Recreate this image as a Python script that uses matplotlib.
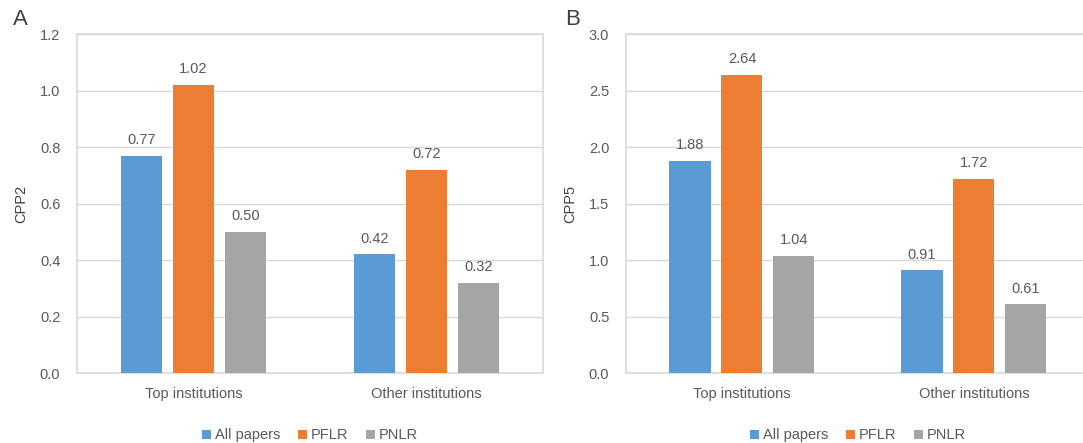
import matplotlib
matplotlib.use("Agg")
import matplotlib.pyplot as plt
import numpy as np
from matplotlib import font_manager

# ── Datos ────────────────────────────────────────────────────────────────────
categorias = ["Top institutions", "Other institutions"]
series = ["All papers", "PFLR", "PNLR"]
colores = ["#5B9BD5", "#ED7D31", "#A5A5A5"]

cpp2 = {"All papers": [0.77, 0.42], "PFLR": [1.02, 0.72], "PNLR": [0.50, 0.32]}
cpp5 = {"All papers": [1.88, 0.91], "PFLR": [2.64, 1.72], "PNLR": [1.04, 0.61]}

# fuente estrecha si existe
disponibles = {f.name for f in font_manager.fontManager.ttflist}
fuente = "Liberation Sans Narrow" if "Liberation Sans Narrow" in disponibles else "Liberation Sans"
plt.rcParams["font.family"] = [fuente, "DejaVu Sans"]

TXT = "#595959"
GRID = "#D9D9D9"

fig = plt.figure(figsize=(10.83, 4.43), dpi=100)
# el panel B se sale un poco por la derecha, como en el original
ax_a = fig.add_axes([0.0711, 0.158, 0.4303, 0.765])
ax_b = fig.add_axes([0.578, 0.158, 0.4284, 0.765])


def panel(ax, datos, ylim, paso, ylabel, letra, xletra):
    x = np.arange(len(categorias))
    ancho = 0.177
    sep = 0.224
    for i, (s, c) in enumerate(zip(series, colores)):
        vals = datos[s]
        bars = ax.bar(x + (i - 1) * sep, vals, width=ancho, color=c, label=s, zorder=3)
        for b, v in zip(bars, vals):
            ax.text(b.get_x() + b.get_width() / 2, v + ylim * 0.025, f"{v:.2f}",
                    ha="center", va="bottom", fontsize=10.5, color=TXT)
    ax.set_xlim(-0.5, len(categorias) - 0.5)
    ax.set_ylim(0, ylim)
    ax.set_yticks(np.arange(0, ylim + paso / 2, paso))
    ax.yaxis.set_major_formatter(matplotlib.ticker.FormatStrFormatter("%.1f"))
    ax.set_xticks(x)
    ax.set_xticklabels(categorias)
    ax.tick_params(length=0, labelsize=10.5, colors=TXT, pad=10)
    ax.tick_params(axis="y", pad=12)
    ax.yaxis.grid(True, color=GRID, linewidth=1, zorder=0)
    for sp in ax.spines.values():
        sp.set_color(GRID)
        sp.set_linewidth(1.2)
    ax.set_ylabel(ylabel, fontsize=10.5, color="#404040", labelpad=8)
    ax.legend(loc="upper center", bbox_to_anchor=(0.5, -0.125), ncol=3, frameon=False,
              fontsize=10.5, handlelength=0.6, handleheight=0.6, handletextpad=0.3,
              columnspacing=1.2, labelcolor=TXT)
    fig.text(xletra, 0.955, letra, fontsize=16, color="#404040", ha="left", va="center")


panel(ax_a, cpp2, 1.2, 0.2, "CPP2", "A", 0.012)
panel(ax_b, cpp5, 3.0, 0.5, "CPP5", "B", 0.522)
ax_b.spines["right"].set_visible(False)

fig.savefig("out.png", dpi=100)
